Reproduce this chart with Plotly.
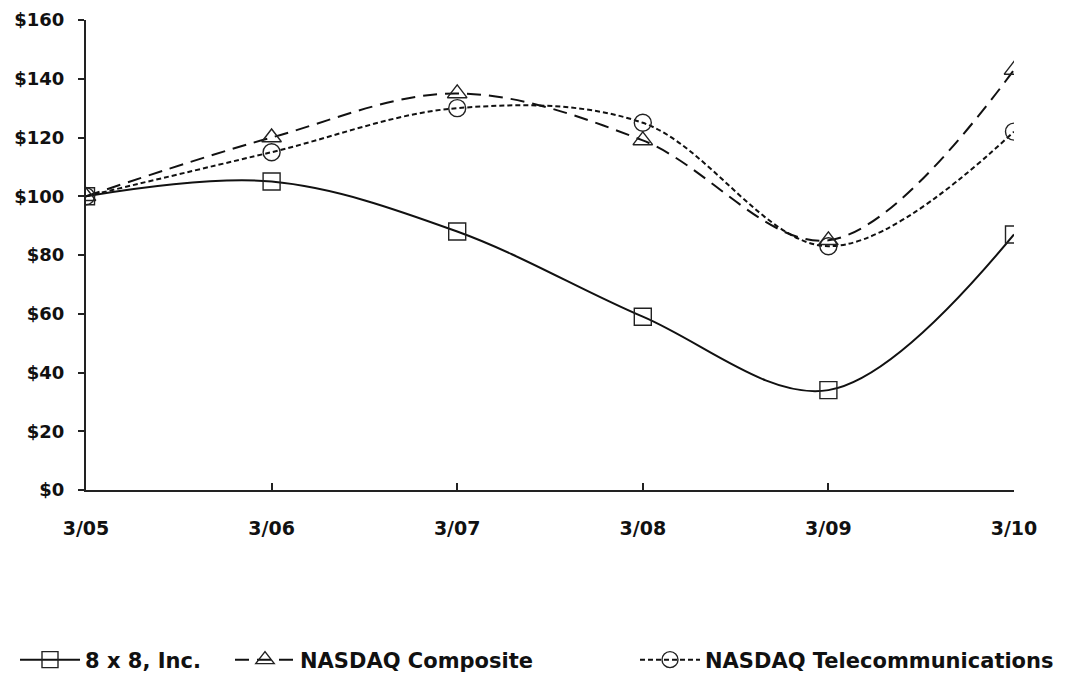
import plotly.graph_objects as go

categories = ["3/05", "3/06", "3/07", "3/08", "3/09", "3/10"]
eight_x_eight = [100, 105, 88, 59, 34, 87]
nasdaq_composite = [100, 120, 135, 119, 85, 143]
nasdaq_telecom = [100, 115, 130, 125, 83, 122]
y_ticks = [0, 20, 40, 60, 80, 100, 120, 140, 160]
y_tick_labels = ["$" + str(v) for v in y_ticks]

FONT = "DejaVu Sans, Liberation Sans, Arial, sans-serif"
W, H = 1058, 667
xs = list(range(len(categories)))

fig = go.Figure()
series = [
    ("8 x 8, Inc.", eight_x_eight, "solid", "square-open", "legend"),
    ("NASDAQ Composite", nasdaq_composite, "14px,8px", "triangle-up-open", "legend2"),
    ("NASDAQ Telecommunications", nasdaq_telecom, "5px,3px", "circle-open", "legend3"),
]
for name, vals, dash, sym, leg in series:
    fig.add_trace(go.Scatter(
        x=xs, y=vals, name=name, mode="lines+markers", legend=leg,
        line=dict(color="#111111", width=2, dash=dash, shape="spline", smoothing=1.0),
        marker=dict(symbol=sym, size=17, color="#222222", line=dict(width=1.4, color="#222222")),
    ))

legend_font = dict(size=21, family=FONT, weight="bold", color="#111111")
def leg(xpix):
    return dict(xref="container", yref="container", x=xpix / W, xanchor="left",
                y=1 - 652 / H, yanchor="middle", orientation="h",
                font=legend_font, itemwidth=60, bgcolor="rgba(0,0,0,0)")

fig.update_layout(
    width=W, height=H,
    margin=dict(l=78, r=52, t=12, b=185, autoexpand=False),
    paper_bgcolor="white", plot_bgcolor="white",
    font=dict(family=FONT, size=18, color="#111111", weight="bold"),
    showlegend=True,
    legend=leg(7), legend2=leg(222), legend3=leg(627),
)
fig.update_xaxes(
    range=[0, 5], tickvals=xs, ticktext=categories,
    showgrid=False, zeroline=False, showline=True, linecolor="#222222", linewidth=2,
    ticks="inside", ticklen=7, tickwidth=1.5, tickcolor="#222222",
    ticklabelstandoff=20, tickfont=dict(size=19), ticklabeloverflow="allow",
)
fig.update_yaxes(
    range=[0, 160], tickvals=y_ticks, ticktext=y_tick_labels,
    showgrid=False, zeroline=False, showline=True, linecolor="#222222", linewidth=2,
    ticks="outside", ticklen=6, tickwidth=1.5, tickcolor="#222222",
    ticklabelstandoff=10, tickfont=dict(size=18), ticklabeloverflow="allow",
)

fig.write_html("out.html")
